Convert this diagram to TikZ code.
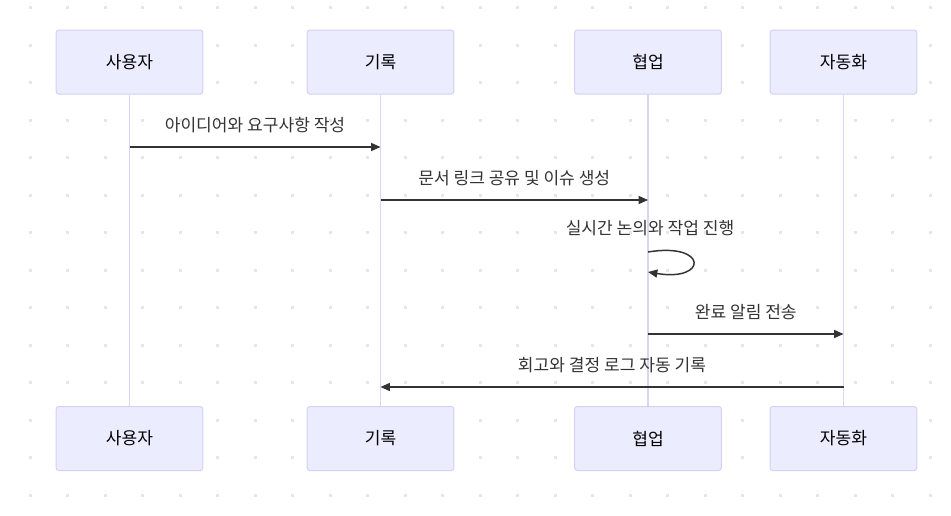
\documentclass[tikz,border=0pt]{standalone}
\usepackage{fontspec}
\setmainfont{Noto Sans CJK KR}
\usetikzlibrary{arrows.meta}

\definecolor{boxfill}{HTML}{ECECFF}
\definecolor{boxline}{HTML}{D6CEF5}
\definecolor{lifeline}{HTML}{DCD4F5}
\definecolor{msgline}{HTML}{333333}
\definecolor{griddot}{HTML}{E6E6E6}

\begin{document}
\begin{tikzpicture}[
    x=0.75pt, y=-0.75pt,
    actor/.style={draw=boxline, fill=boxfill, rounded corners=2pt, line width=0.75pt, minimum width=110pt, minimum height=48pt, font=\fontsize{12.8}{14}\selectfont},
    life/.style={draw=lifeline, line width=1.4pt},
    msg/.style={-{Triangle[length=7pt, width=6pt]}, draw=msgline, line width=1.1pt},
    msgtext/.style={font=\fontsize{12.8}{14}\selectfont, text=msgline},
]
\useasboundingbox (0,0) rectangle (951,515);

% Background dots
\foreach \i in {0,...,24}
  \foreach \j in {0,...,13}
    \fill[griddot] (30+37.5*\i-1.5, 7.5+37.5*\j-1.5) rectangle ++(3,3);

% Actors
\node[actor] (user) at (129.5,62) {사용자};
\node[actor] (log) at (380.5,62) {기록};
\node[actor] (collab) at (648,62) {협업};
\node[actor] (auto) at (843.5,62) {자동화};

\node[actor] (userb) at (129.5,438.5) {사용자};
\node[actor] (logb) at (380.5,438.5) {기록};
\node[actor] (collabb) at (648,438.5) {협업};
\node[actor] (autob) at (843.5,438.5) {자동화};

% Lifelines
\draw[life] (user) -- (userb);
\draw[life] (log) -- (logb);
\draw[life] (collab) -- (collabb);
\draw[life] (auto) -- (autob);

% Message rows
\coordinate (r1) at (0,147);
\coordinate (r2) at (0,200);
\coordinate (r3) at (0,252);
\coordinate (r3b) at (0,272);
\coordinate (r4) at (0,334);
\coordinate (r5) at (0,387);

% Messages
\draw[msg] (user |- r1) -- (log |- r1)
  node[msgtext, midway, above=7pt] {아이디어와 요구사항 작성};
\draw[msg] (log |- r2) -- (collab |- r2)
  node[msgtext, midway, above=7pt] {문서 링크 공유 및 이슈 생성};
\draw[msg] (collab |- r3) .. controls +(60,-10) and +(60,10) .. (collab |- r3b);
\node[msgtext] (selftext) at (650,228) {실시간 논의와 작업 진행};
\draw[msg] (collab |- r4) -- (auto |- r4)
  node[msgtext, midway, above=7pt] {완료 알림 전송};
\draw[msg] (auto |- r5) -- (log |- r5)
  node[msgtext, midway, above=7pt] {회고와 결정 로그 자동 기록};

\end{tikzpicture}
\end{document}
